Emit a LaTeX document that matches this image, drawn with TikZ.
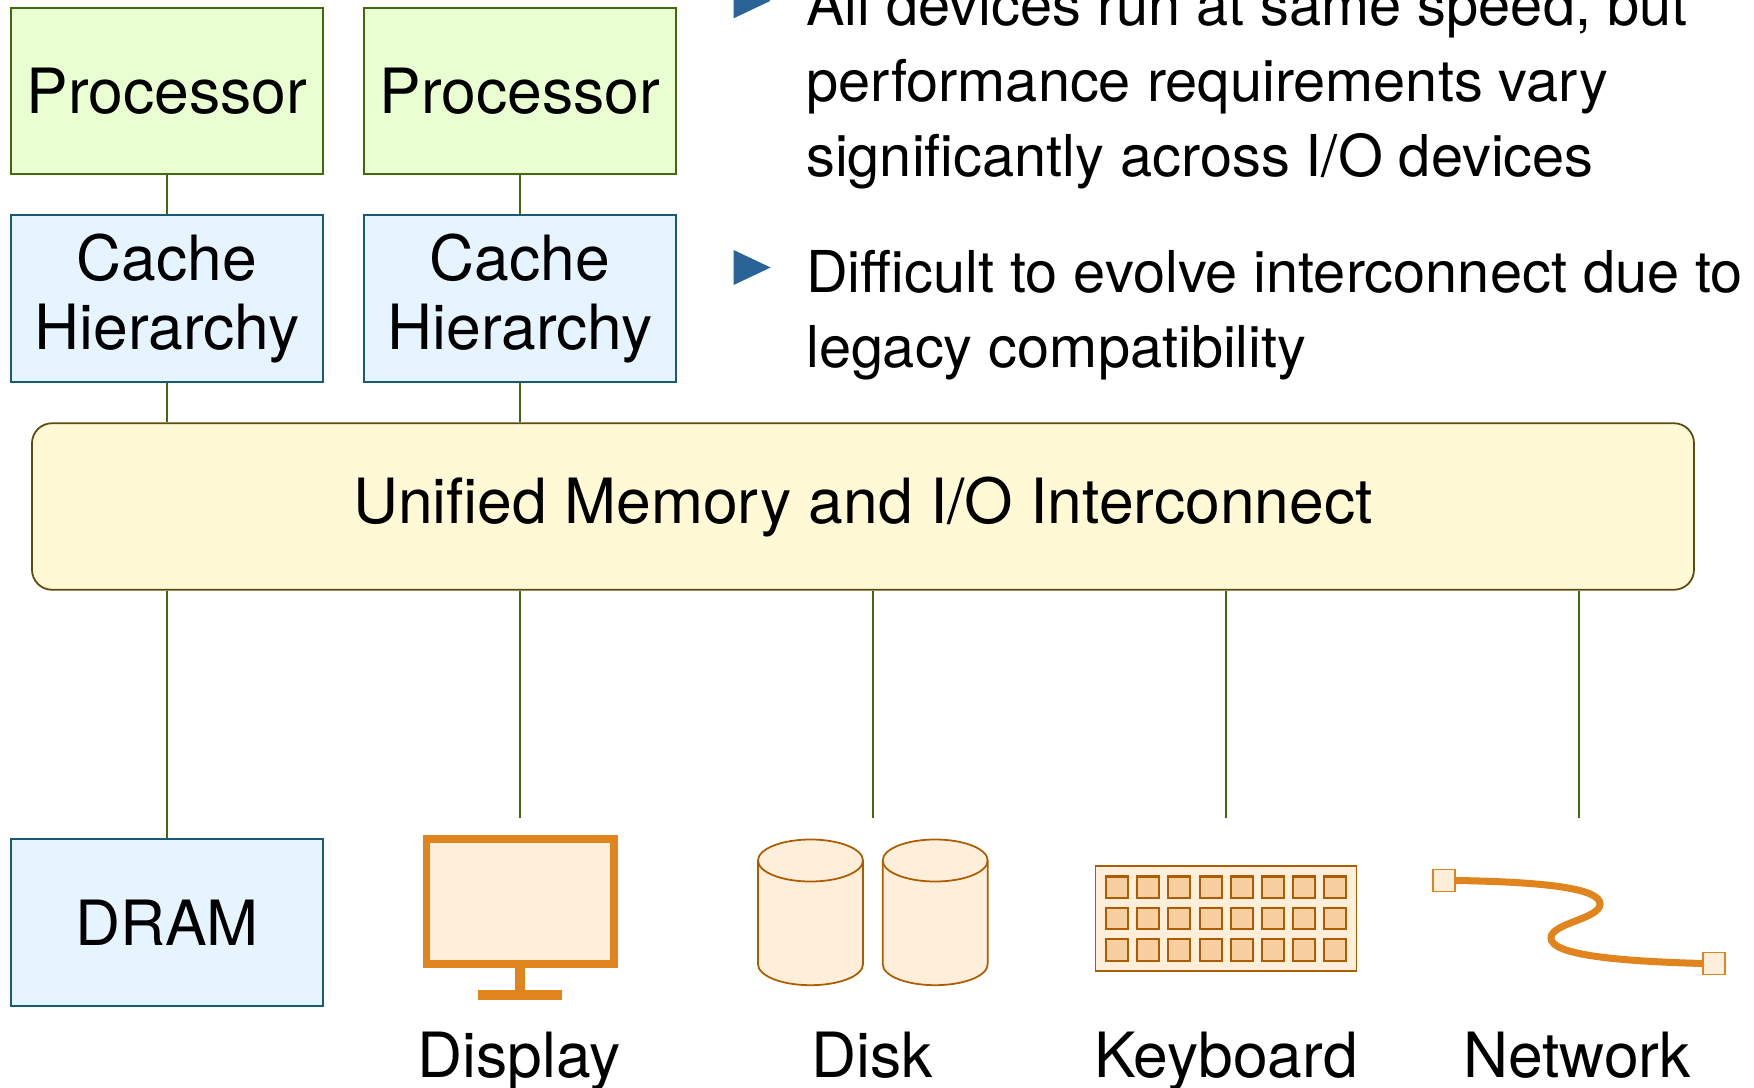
\documentclass[tikz,border=0pt]{standalone}
\usepackage{fontspec}
\setmainfont{TeX Gyre Heros}
\definecolor{procfill}{HTML}{E9FFD2}
\definecolor{procline}{HTML}{3F6A10}
\definecolor{cachefill}{HTML}{E5F4FF}
\definecolor{cacheline}{HTML}{1A5A70}
\definecolor{busfill}{HTML}{FFF9D5}
\definecolor{busline}{HTML}{5D4A0F}
\definecolor{iofill}{HTML}{FFEEDA}
\definecolor{ioline}{HTML}{AD5D00}
\definecolor{iomain}{HTML}{E0851E}
\definecolor{iokey}{HTML}{F7CFA0}
\definecolor{bulletblue}{HTML}{2A6496}
\tikzset{
    txt/.style={font=\fontsize{17.75}{19.4}\selectfont, inner sep=0pt},
    procbox/.style={txt, draw=procline, fill=procfill, line width=0.5pt, minimum width=3.12cm, minimum height=1.665cm},
    cachebox/.style={txt, draw=cacheline, fill=cachefill, line width=0.5pt, minimum width=3.12cm, minimum height=1.665cm, align=center},
    busbox/.style={txt, draw=busline, fill=busfill, line width=0.5pt, rounded corners=0.2cm, minimum width=16.62cm, minimum height=1.665cm},
    point/.style={font=\fontsize{16.42}{21.5}\selectfont, inner sep=0pt, align=left, anchor=base west},
    devlabel/.style={txt, anchor=base},
    link/.style={draw=procline, line width=0.5pt},
    plug/.style={draw=iomain, fill=iofill, line width=0.5pt, minimum size=0.22cm, inner sep=0pt}
}
\begin{document}
\begin{tikzpicture}
                    \useasboundingbox (0, 0) rectangle (17.54, 10.87);
                    \clip (0, 0) rectangle (17.54, 10.87);
                    \node [procbox] (proc1) at (1.67, 9.96) {Processor};
                    \node [procbox] (proc2) at (5.2, 9.96) {Processor};
                    \node [cachebox] (cache1) at (1.67, 7.885) {Cache\\Hierarchy};
                    \node [cachebox] (cache2) at (5.2, 7.885) {Cache\\Hierarchy};
                    \node [busbox] (bus) at (8.63, 5.805) {Unified Memory and I/O Interconnect};
                    \node [cachebox] (dram) at (1.67, 1.645) {DRAM};
                    \coordinate (displaytop) at (5.2, 2.69);
                    \coordinate (disktop) at (8.73, 2.69);
                    \coordinate (keyboardtop) at (12.26, 2.69);
                    \coordinate (networktop) at (15.79, 2.69);
                    \draw [link] (proc1) -- (cache1);
                    \draw [link] (proc2) -- (cache2);
                    \draw [link] (cache1) -- (cache1 |- bus.north);
                    \draw [link] (cache2) -- (cache2 |- bus.north);
                    \draw [link] (dram |- bus.south) -- (dram);
                    \draw [link] (displaytop |- bus.south) -- (displaytop);
                    \draw [link] (disktop |- bus.south) -- (disktop);
                    \draw [link] (keyboardtop |- bus.south) -- (keyboardtop);
                    \draw [link] (networktop |- bus.south) -- (networktop);
                    \fill [iomain] (4.225, 1.19) rectangle (6.175, 2.52);
                    \fill [iofill] (4.304, 1.27) rectangle (6.096, 2.437);
                    \fill [iomain] (5.148, 0.94) rectangle (5.252, 1.19);
                    \fill [iomain] (4.783, 0.867) rectangle (5.617, 0.97);
                    \foreach \cx in {8.105, 9.352} {
                        \draw [ioline, fill=iofill, line width=0.5pt] (\cx - 0.525, 2.265) -- (\cx - 0.525, 1.228) arc [start angle=180, end angle=360, x radius=0.525, y radius=0.21] -- (\cx + 0.525, 2.265) arc [start angle=0, end angle=180, x radius=0.525, y radius=0.21];
                        \draw [ioline, line width=0.5pt] (\cx - 0.525, 2.265) arc [start angle=180, end angle=360, x radius=0.525, y radius=0.21];
                    }
                    \draw [ioline, fill=iofill, line width=0.5pt] (10.954, 1.162) rectangle (13.566, 2.212);
                    \foreach \col in {0, ..., 7} {
                        \foreach \row in {0, 1, 2} {
                            \draw [ioline, fill=iokey, line width=0.6pt] (11.06 + 0.312 * \col, 1.889 - 0.313 * \row) rectangle ++(0.22, 0.216);
                        }
                    }
                    \node [plug] (plug1) at (14.44, 2.065) {};
                    \node [plug] (plug2) at (17.14, 1.235) {};
                    \draw [iomain, line width=2pt] (plug1.east) .. controls (15.5, 2.05) and (16.0, 1.98) .. (16.0, 1.83) .. controls (16.0, 1.68) and (15.51, 1.64) .. (15.51, 1.49) .. controls (15.51, 1.33) and (16.1, 1.26) .. (plug2.west);
                    \node [devlabel] (displaylabel) at (5.19, 0.1) {Display};
                    \node [devlabel] (disklabel) at (8.725, 0.1) {Disk};
                    \node [devlabel] (keyboardlabel) at (12.26, 0.1) {Keyboard};
                    \node [devlabel] (networklabel) at (15.77, 0.1) {Network};
                    \fill [bulletblue] (7.336, 10.687) -- (7.706, 10.862) -- (7.336, 11.037) -- cycle;
                    \fill [bulletblue] (7.336, 8.02) -- (7.706, 8.195) -- (7.336, 8.37) -- cycle;
                    \node [point] (speed) at (8.055, 9.103) {All devices run at same speed, but\\performance requirements vary\\significantly across I/O devices};
                    \node [point] (legacy) at (8.055, 7.193) {Difficult to evolve interconnect due to\\legacy compatibility};
                \end{tikzpicture}
\end{document}
